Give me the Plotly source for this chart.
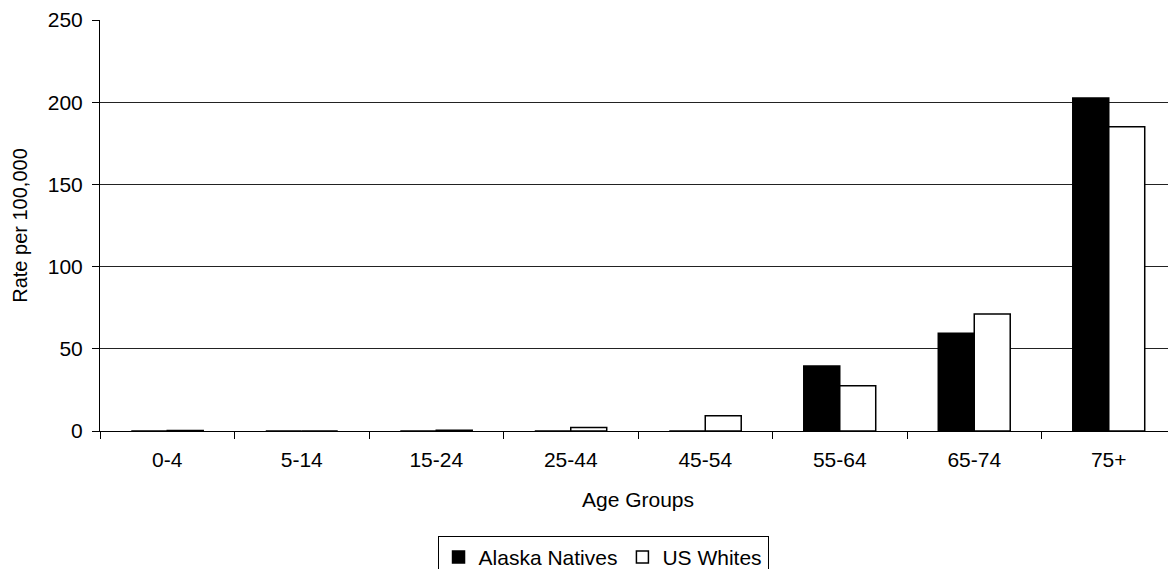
import plotly.graph_objects as go

categories = ["0-4", "5-14", "15-24", "25-44", "45-54", "55-64", "65-74", "75+"]
alaska_natives = [0, 0, 0, 0, 0, 39.5, 59.5, 202.5]
us_whites = [0.3, 0, 0.5, 2.2, 9.3, 27.5, 71.2, 185]
y_ticks = [0, 50, 100, 150, 200, 250]

fig = go.Figure()
fig.add_trace(go.Bar(x=categories, y=alaska_natives, name="Alaska Natives",
                     marker=dict(color="black", line=dict(color="black", width=1.5))))
fig.add_trace(go.Bar(x=categories, y=us_whites, name="US Whites",
                     marker=dict(color="white", line=dict(color="black", width=1.5))))

# page body has an 8px margin, so the figure is sized/offset to compensate
fig.update_layout(
    width=1168, height=561,
    margin=dict(l=92, r=0, t=12, b=138, autoexpand=False),
    paper_bgcolor="white", plot_bgcolor="white",
    barmode="group", bargap=0.465, bargroupgap=0,
    font=dict(family="Liberation Sans, Arial, sans-serif", size=21, color="black"),
    showlegend=True,
    legend=dict(orientation="h", x=0.4675, xanchor="center", y=-0.255, yanchor="top",
                bordercolor="black", borderwidth=1, font=dict(size=21),
                itemwidth=30, traceorder="normal", tracegroupgap=0),
    xaxis=dict(
        title=dict(text="Age Groups", standoff=22, font=dict(size=21)),
        showline=True, linecolor="black", linewidth=1,
        ticks="outside", ticklen=7, tickcolor="black",
        ticklabelstandoff=10,
        tickson="boundaries", showgrid=False,
    ),
    yaxis=dict(
        title=dict(text="Rate per 100,000", standoff=14, font=dict(size=20)),
        range=[0, 250], tickvals=y_ticks,
        showline=True, linecolor="black", linewidth=1,
        ticks="outside", ticklen=7, tickcolor="black",
        ticklabelstandoff=5,
        showgrid=True, gridcolor="#222222", gridwidth=0.7,
        zeroline=False,
    ),
)

fig.write_html("out.html")
